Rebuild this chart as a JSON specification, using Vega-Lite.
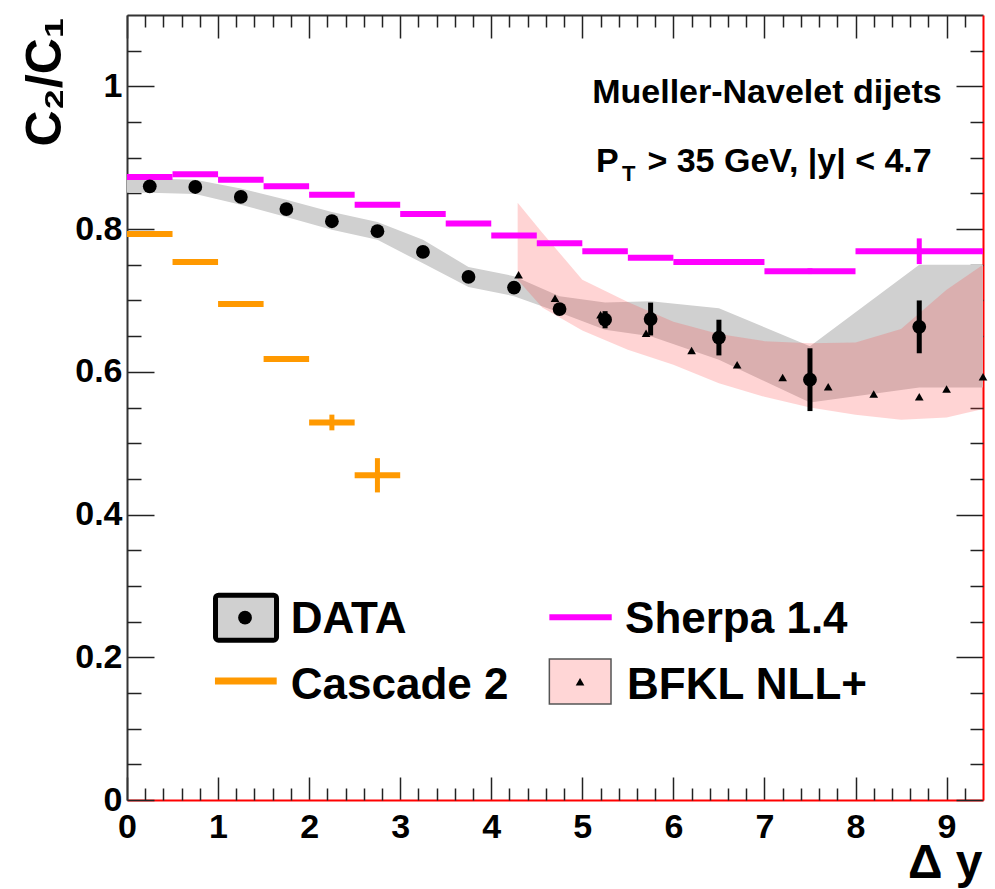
{
  "$schema": "https://vega.github.io/schema/vega-lite/v6.json",
  "autosize": "none",
  "width": 856,
  "height": 785,
  "padding": {"left": 127, "top": 15, "right": 12, "bottom": 89},
  "background": "white",
  "data": {"values": [{}]},
  "config": {
    "view": {"stroke": null},
    "font": "Liberation Sans",
    "axis": {"grid": false, "labelFont": "Liberation Sans", "labelFontWeight": "bold", "labelFontSize": 34, "labelColor": "black", "tickColor": "#222222", "tickWidth": 1.5, "domainWidth": 2, "labelFlush": false, "labelOverlap": false}
  },
  "datasets": {
    "band": [
      {"x": 0, "lo": 0.851, "hi": 0.870},
      {"x": 0.25, "lo": 0.851, "hi": 0.871},
      {"x": 0.75, "lo": 0.849, "hi": 0.869},
      {"x": 1.25, "lo": 0.834, "hi": 0.857},
      {"x": 1.75, "lo": 0.817, "hi": 0.841},
      {"x": 2.25, "lo": 0.799, "hi": 0.824},
      {"x": 2.75, "lo": 0.785, "hi": 0.810},
      {"x": 3.25, "lo": 0.752, "hi": 0.785},
      {"x": 3.75, "lo": 0.719, "hi": 0.747},
      {"x": 4.25, "lo": 0.706, "hi": 0.734},
      {"x": 4.75, "lo": 0.683, "hi": 0.706},
      {"x": 5.25, "lo": 0.659, "hi": 0.697},
      {"x": 5.75, "lo": 0.650, "hi": 0.699},
      {"x": 6.5, "lo": 0.617, "hi": 0.689},
      {"x": 7.5, "lo": 0.557, "hi": 0.636},
      {"x": 8.7, "lo": 0.578, "hi": 0.750},
      {"x": 9.4, "lo": 0.578, "hi": 0.750}
    ],
    "bfklband": [
      {"x": 4.29, "lo": 0.729, "hi": 0.837},
      {"x": 4.56, "lo": 0.690, "hi": 0.795},
      {"x": 5.0, "lo": 0.658, "hi": 0.729},
      {"x": 5.5, "lo": 0.631, "hi": 0.698},
      {"x": 6.0, "lo": 0.610, "hi": 0.670},
      {"x": 6.5, "lo": 0.584, "hi": 0.653},
      {"x": 7.0, "lo": 0.565, "hi": 0.643},
      {"x": 7.5, "lo": 0.550, "hi": 0.640},
      {"x": 8.0, "lo": 0.540, "hi": 0.641},
      {"x": 8.5, "lo": 0.533, "hi": 0.660},
      {"x": 9.0, "lo": 0.536, "hi": 0.715},
      {"x": 9.4, "lo": 0.548, "hi": 0.750}
    ],
    "data": [
      {"x": 0.25, "y": 0.860, "lo": 0.857, "hi": 0.863},
      {"x": 0.75, "y": 0.859, "lo": 0.856, "hi": 0.862},
      {"x": 1.25, "y": 0.845, "lo": 0.842, "hi": 0.848},
      {"x": 1.75, "y": 0.828, "lo": 0.825, "hi": 0.831},
      {"x": 2.25, "y": 0.811, "lo": 0.808, "hi": 0.814},
      {"x": 2.75, "y": 0.797, "lo": 0.793, "hi": 0.801},
      {"x": 3.25, "y": 0.768, "lo": 0.764, "hi": 0.772},
      {"x": 3.75, "y": 0.733, "lo": 0.728, "hi": 0.738},
      {"x": 4.25, "y": 0.718, "lo": 0.712, "hi": 0.724},
      {"x": 4.75, "y": 0.688, "lo": 0.680, "hi": 0.696},
      {"x": 5.25, "y": 0.673, "lo": 0.661, "hi": 0.685},
      {"x": 5.75, "y": 0.674, "lo": 0.651, "hi": 0.697},
      {"x": 6.5, "y": 0.648, "lo": 0.623, "hi": 0.673},
      {"x": 7.5, "y": 0.589, "lo": 0.545, "hi": 0.633},
      {"x": 8.7, "y": 0.663, "lo": 0.626, "hi": 0.700}
    ],
    "sherpa": [
      {"x1": 0, "x2": 0.5, "xc": 0.25, "y": 0.873, "lo": 0.872, "hi": 0.874},
      {"x1": 0.5, "x2": 1, "xc": 0.75, "y": 0.877, "lo": 0.876, "hi": 0.878},
      {"x1": 1, "x2": 1.5, "xc": 1.25, "y": 0.869, "lo": 0.868, "hi": 0.870},
      {"x1": 1.5, "x2": 2, "xc": 1.75, "y": 0.860, "lo": 0.859, "hi": 0.861},
      {"x1": 2, "x2": 2.5, "xc": 2.25, "y": 0.848, "lo": 0.847, "hi": 0.849},
      {"x1": 2.5, "x2": 3, "xc": 2.75, "y": 0.834, "lo": 0.833, "hi": 0.835},
      {"x1": 3, "x2": 3.5, "xc": 3.25, "y": 0.821, "lo": 0.820, "hi": 0.822},
      {"x1": 3.5, "x2": 4, "xc": 3.75, "y": 0.808, "lo": 0.807, "hi": 0.809},
      {"x1": 4, "x2": 4.5, "xc": 4.25, "y": 0.791, "lo": 0.790, "hi": 0.792},
      {"x1": 4.5, "x2": 5, "xc": 4.75, "y": 0.780, "lo": 0.779, "hi": 0.781},
      {"x1": 5, "x2": 5.5, "xc": 5.25, "y": 0.769, "lo": 0.768, "hi": 0.770},
      {"x1": 5.5, "x2": 6, "xc": 5.75, "y": 0.760, "lo": 0.759, "hi": 0.761},
      {"x1": 6, "x2": 7, "xc": 6.5, "y": 0.754, "lo": 0.753, "hi": 0.755},
      {"x1": 7, "x2": 8, "xc": 7.5, "y": 0.741, "lo": 0.737, "hi": 0.745},
      {"x1": 8, "x2": 9.4, "xc": 8.7, "y": 0.769, "lo": 0.751, "hi": 0.787}
    ],
    "cascade": [
      {"x1": 0, "x2": 0.5, "xc": 0.25, "y": 0.793, "lo": 0.792, "hi": 0.794},
      {"x1": 0.5, "x2": 1, "xc": 0.75, "y": 0.754, "lo": 0.753, "hi": 0.755},
      {"x1": 1, "x2": 1.5, "xc": 1.25, "y": 0.695, "lo": 0.692, "hi": 0.698},
      {"x1": 1.5, "x2": 2, "xc": 1.75, "y": 0.618, "lo": 0.614, "hi": 0.622},
      {"x1": 2, "x2": 2.5, "xc": 2.25, "y": 0.529, "lo": 0.518, "hi": 0.540},
      {"x1": 2.5, "x2": 3, "xc": 2.75, "y": 0.455, "lo": 0.431, "hi": 0.479}
    ],
    "bfkl": [
      {"x": 4.3, "y": 0.736},
      {"x": 4.7, "y": 0.703},
      {"x": 5.2, "y": 0.680},
      {"x": 5.7, "y": 0.654},
      {"x": 6.2, "y": 0.630},
      {"x": 6.7, "y": 0.610},
      {"x": 7.2, "y": 0.592},
      {"x": 7.7, "y": 0.579},
      {"x": 8.2, "y": 0.569},
      {"x": 8.7, "y": 0.565},
      {"x": 9.0, "y": 0.576},
      {"x": 9.4, "y": 0.593}
    ]
  },
  "layer": [
    {
      "data": {"name": "band"},
      "mark": {"type": "area", "color": "#d0d0d0", "opacity": 1},
      "encoding": {
        "x": {"field": "x", "type": "quantitative", "scale": {"domain": [0, 9.4], "nice": false, "zero": false},
          "axis": {"orient": "bottom", "values": [0,1,2,3,4,5,6,7,8,9], "tickSize": -23, "labelPadding": 33.5, "domainColor": "#ff0000", "format": "~g",
            "title": "Δ y", "titleFont": "Liberation Sans", "titleFontWeight": "bold", "titleFontSize": 48, "titleColor": "black", "titleAnchor": "end", "titleAlign": "right", "titleBaseline": "alphabetic", "titleX": 855, "titleY": 77, "titleAngle": 0}},
        "y": {"field": "lo", "type": "quantitative", "scale": {"domain": [0, 1.1], "nice": false, "zero": false},
          "axis": {"orient": "left", "values": [0,0.2,0.4,0.6,0.8,1], "tickSize": -27, "labelPadding": 32, "domainColor": "#333333", "format": "~g",
            "title": "C₂/C₁", "titleFont": "Liberation Sans", "titleFontWeight": "bold", "titleFontSize": 50, "titleColor": "black", "titleAnchor": "end", "titleAlign": "right", "titleBaseline": "alphabetic", "titleAngle": -90, "titleX": -67, "titleY": 2}},
        "y2": {"field": "hi"}
      }
    },
    {
      "data": {"name": "bfklband"},
      "mark": {"type": "area", "color": "#ff3b3b", "opacity": 0.22},
      "encoding": {
        "x": {"field": "x", "type": "quantitative", "axis": {"orient": "bottom", "values": [0.2,0.4,0.6,0.8,1.2,1.4,1.6,1.8,2.2,2.4,2.6,2.8,3.2,3.4,3.6,3.8,4.2,4.4,4.6,4.8,5.2,5.4,5.6,5.8,6.2,6.4,6.6,6.8,7.2,7.4,7.6,7.8,8.2,8.4,8.6,8.8,9.2], "tickSize": -12, "labels": false, "domain": false, "title": null}},
        "y": {"field": "lo", "type": "quantitative", "axis": {"orient": "left", "values": [0.05,0.1,0.15,0.25,0.3,0.35,0.45,0.5,0.55,0.65,0.7,0.75,0.85,0.9,0.95,1.05], "tickSize": -14, "labels": false, "domain": false, "title": null}},
        "y2": {"field": "hi"}
      }
    },
    {
      "data": {"name": "sherpa"},
      "mark": {"type": "rule", "color": "#ff00ff", "strokeWidth": 6},
      "encoding": {
        "x": {"field": "x1", "type": "quantitative", "axis": {"orient": "top", "values": [0,1,2,3,4,5,6,7,8,9], "tickSize": -23, "labels": false, "domainColor": "#333333", "title": null}},
        "x2": {"field": "x2"},
        "y": {"field": "y", "type": "quantitative", "axis": {"orient": "right", "values": [0,0.2,0.4,0.6,0.8,1], "tickSize": -27, "labels": false, "domainColor": "#ff0000", "title": null}}
      }
    },
    {
      "data": {"name": "cascade"},
      "mark": {"type": "rule", "color": "#ff9900", "strokeWidth": 6},
      "encoding": {
        "x": {"field": "x1", "type": "quantitative", "axis": {"orient": "top", "values": [0.2,0.4,0.6,0.8,1.2,1.4,1.6,1.8,2.2,2.4,2.6,2.8,3.2,3.4,3.6,3.8,4.2,4.4,4.6,4.8,5.2,5.4,5.6,5.8,6.2,6.4,6.6,6.8,7.2,7.4,7.6,7.8,8.2,8.4,8.6,8.8,9.2], "tickSize": -12, "labels": false, "domain": false, "title": null}},
        "x2": {"field": "x2"},
        "y": {"field": "y", "type": "quantitative", "axis": {"orient": "right", "values": [0.05,0.1,0.15,0.25,0.3,0.35,0.45,0.5,0.55,0.65,0.7,0.75,0.85,0.9,0.95,1.05], "tickSize": -13, "labels": false, "domain": false, "title": null}}
      }
    },
    {
      "data": {"name": "sherpa"},
      "mark": {"type": "rule", "color": "#ff00ff", "strokeWidth": 5},
      "encoding": {
        "x": {"field": "xc", "type": "quantitative", "axis": null},
        "y": {"field": "lo", "type": "quantitative", "axis": null},
        "y2": {"field": "hi"}
      }
    },
    {
      "data": {"name": "cascade"},
      "mark": {"type": "rule", "color": "#ff9900", "strokeWidth": 5},
      "encoding": {
        "x": {"field": "xc", "type": "quantitative", "axis": null},
        "y": {"field": "lo", "type": "quantitative", "axis": null},
        "y2": {"field": "hi"}
      }
    },
    {
      "data": {"name": "bfkl"},
      "mark": {"type": "point", "shape": "triangle-up", "filled": true, "color": "black", "size": 75, "opacity": 1, "clip": false},
      "encoding": {
        "x": {"field": "x", "type": "quantitative", "axis": null},
        "y": {"field": "y", "type": "quantitative", "axis": null}
      }
    },
    {
      "data": {"name": "data"},
      "mark": {"type": "rule", "color": "black", "strokeWidth": 5},
      "encoding": {
        "x": {"field": "x", "type": "quantitative", "axis": null},
        "y": {"field": "lo", "type": "quantitative", "axis": null},
        "y2": {"field": "hi"}
      }
    },
    {
      "data": {"name": "data"},
      "mark": {"type": "point", "shape": "circle", "filled": true, "color": "black", "size": 190, "opacity": 1},
      "encoding": {
        "x": {"field": "x", "type": "quantitative", "axis": null},
        "y": {"field": "y", "type": "quantitative", "axis": null}
      }
    },
    {
      "mark": {"type": "rect", "fill": "#d0d0d0", "stroke": "black", "strokeWidth": 5, "cornerRadius": 3},
      "encoding": {
        "x": {"datum": 0.972, "type": "quantitative", "axis": null},
        "x2": {"datum": 1.642},
        "y": {"datum": 0.287, "type": "quantitative", "axis": null},
        "y2": {"datum": 0.224}
      }
    },
    {
      "mark": {"type": "point", "shape": "circle", "filled": true, "color": "black", "size": 190, "opacity": 1},
      "encoding": {
        "x": {"datum": 1.296, "type": "quantitative", "axis": null},
        "y": {"datum": 0.2555, "type": "quantitative", "axis": null}
      }
    },
    {
      "mark": {"type": "rule", "color": "#ff9900", "strokeWidth": 7},
      "encoding": {
        "x": {"datum": 0.966, "type": "quantitative", "axis": null},
        "x2": {"datum": 1.644},
        "y": {"datum": 0.1668, "type": "quantitative", "axis": null}
      }
    },
    {
      "mark": {"type": "rule", "color": "#ff00ff", "strokeWidth": 6},
      "encoding": {
        "x": {"datum": 4.638, "type": "quantitative", "axis": null},
        "x2": {"datum": 5.323},
        "y": {"datum": 0.256, "type": "quantitative", "axis": null}
      }
    },
    {
      "mark": {"type": "rect", "fill": "#ffd6d6", "stroke": "#555555", "strokeWidth": 1.5},
      "encoding": {
        "x": {"datum": 4.638, "type": "quantitative", "axis": null},
        "x2": {"datum": 5.315},
        "y": {"datum": 0.1976, "type": "quantitative", "axis": null},
        "y2": {"datum": 0.1345}
      }
    },
    {
      "mark": {"type": "point", "shape": "triangle-up", "filled": true, "color": "black", "size": 75, "opacity": 1},
      "encoding": {
        "x": {"datum": 4.975, "type": "quantitative", "axis": null},
        "y": {"datum": 0.1658, "type": "quantitative", "axis": null}
      }
    },
    {
      "mark": {"type": "text", "text": "DATA", "align": "left", "baseline": "alphabetic", "fontSize": 44, "fontWeight": "bold", "font": "Liberation Sans", "color": "black"},
      "encoding": {"x": {"datum": 1.798, "type": "quantitative", "axis": null}, "y": {"datum": 0.2336, "type": "quantitative", "axis": null}}
    },
    {
      "mark": {"type": "text", "text": "Cascade 2", "align": "left", "baseline": "alphabetic", "fontSize": 44, "fontWeight": "bold", "font": "Liberation Sans", "color": "black"},
      "encoding": {"x": {"datum": 1.798, "type": "quantitative", "axis": null}, "y": {"datum": 0.1415, "type": "quantitative", "axis": null}}
    },
    {
      "mark": {"type": "text", "text": "Sherpa 1.4", "align": "left", "baseline": "alphabetic", "fontSize": 44, "fontWeight": "bold", "font": "Liberation Sans", "color": "black"},
      "encoding": {"x": {"datum": 5.469, "type": "quantitative", "axis": null}, "y": {"datum": 0.2336, "type": "quantitative", "axis": null}}
    },
    {
      "mark": {"type": "text", "text": "BFKL NLL+", "align": "left", "baseline": "alphabetic", "fontSize": 44, "fontWeight": "bold", "font": "Liberation Sans", "color": "black"},
      "encoding": {"x": {"datum": 5.491, "type": "quantitative", "axis": null}, "y": {"datum": 0.1415, "type": "quantitative", "axis": null}}
    },
    {
      "mark": {"type": "text", "text": "Mueller-Navelet dijets", "align": "right", "baseline": "alphabetic", "fontSize": 34, "fontWeight": "bold", "font": "Liberation Sans", "color": "black"},
      "encoding": {"x": {"datum": 8.947, "type": "quantitative", "axis": null}, "y": {"datum": 0.977, "type": "quantitative", "axis": null}}
    },
    {
      "mark": {"type": "text", "text": "P", "align": "left", "baseline": "alphabetic", "fontSize": 34, "fontWeight": "bold", "font": "Liberation Sans", "color": "black"},
      "encoding": {"x": {"datum": 5.151, "type": "quantitative", "axis": null}, "y": {"datum": 0.8805, "type": "quantitative", "axis": null}}
    },
    {
      "mark": {"type": "text", "text": "T", "align": "left", "baseline": "alphabetic", "fontSize": 22, "fontWeight": "bold", "font": "Liberation Sans", "color": "black"},
      "encoding": {"x": {"datum": 5.436, "type": "quantitative", "axis": null}, "y": {"datum": 0.8667, "type": "quantitative", "axis": null}}
    },
    {
      "mark": {"type": "text", "text": "> 35 GeV, |y| < 4.7", "align": "right", "baseline": "alphabetic", "fontSize": 34, "fontWeight": "bold", "font": "Liberation Sans", "color": "black"},
      "encoding": {"x": {"datum": 8.837, "type": "quantitative", "axis": null}, "y": {"datum": 0.8805, "type": "quantitative", "axis": null}}
    }
  ],
  "resolve": {"axis": {"x": "independent", "y": "independent"}}
}
